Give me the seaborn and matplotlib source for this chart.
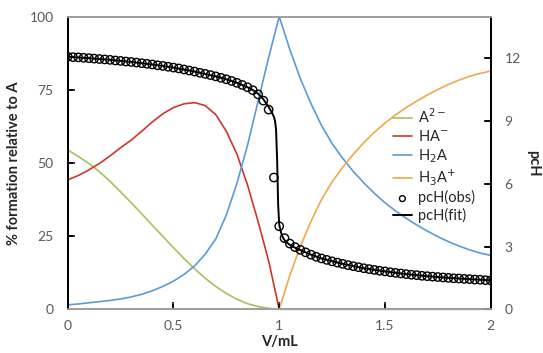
import numpy as np
import matplotlib
matplotlib.use("Agg")
import matplotlib.pyplot as plt
import seaborn as sns

sns.set_theme(style="ticks")
plt.rcParams['font.family'] = ['Lato', 'DejaVu Sans']
plt.rcParams.update({
    'xtick.direction': 'in', 'ytick.direction': 'in',
    'xtick.major.size': 5, 'ytick.major.size': 5,
    'xtick.major.width': 1.1, 'ytick.major.width': 1.1,
    'xtick.color': 'black', 'ytick.color': 'black',
    'xtick.labelcolor': '#595959', 'ytick.labelcolor': '#595959',
    'xtick.labelsize': 10, 'ytick.labelsize': 10,
    'xtick.major.pad': 8, 'ytick.major.pad': 10,
})

# species distribution (% relative to A), read every 0.05 mL
v_species = np.linspace(0, 2, 41)
a2 = [54.4, 52.2, 49.8, 47.0, 43.7, 40.1, 36.4, 32.6, 28.7, 24.9, 21.0,
      17.3, 13.8, 10.6, 7.8, 5.4, 3.4, 1.9, 0.9, 0.3, 0.0,
      0, 0, 0, 0, 0, 0, 0, 0, 0, 0, 0, 0, 0, 0, 0, 0, 0, 0, 0, 0]
ha = [44.2, 45.7, 47.6, 49.8, 52.4, 55.2, 57.8, 60.8, 64.0, 66.8, 68.9,
      70.2, 70.6, 69.6, 66.5, 60.8, 53.0, 42.5, 30.0, 16.5, 0.0,
      0, 0, 0, 0, 0, 0, 0, 0, 0, 0, 0, 0, 0, 0, 0, 0, 0, 0, 0, 0]
h2a = [1.5, 1.8, 2.2, 2.6, 3.0, 3.5, 4.2, 5.1, 6.3, 7.8, 9.6,
       11.9, 14.8, 18.8, 24.0, 32.2, 43.0, 56.0, 71.0, 86.0, 100.0,
       88.8, 78.8, 70.3, 62.8, 56.6, 51.6, 47.1, 43.2, 39.6, 36.4,
       33.6, 31.1, 28.8, 26.7, 24.8, 23.1, 21.6, 20.3, 19.2, 18.4]
h3a = [0, 0, 0, 0, 0, 0, 0, 0, 0, 0, 0, 0, 0, 0, 0, 0, 0, 0, 0, 0, 0.0,
       11.5, 21.5, 30.0, 37.5, 43.5, 48.5, 52.9, 56.9, 60.5, 63.6,
       66.4, 68.9, 71.1, 73.2, 75.1, 76.8, 78.3, 79.6, 80.6, 81.4]

# observed pcH, every 0.025 mL
v_obs = np.linspace(0, 2, 81)
pch_obs = [12.08, 12.06, 12.05, 12.03, 12.01, 11.99, 11.97, 11.95, 11.93, 11.90,
           11.88, 11.85, 11.83, 11.80, 11.77, 11.74, 11.71, 11.67, 11.64, 11.60,
           11.56, 11.52, 11.47, 11.42, 11.37, 11.31, 11.26, 11.20, 11.14, 11.07,
           11.00, 10.92, 10.83, 10.73, 10.62, 10.48, 10.28, 9.98, 9.55, 6.30,
           3.97, 3.40, 3.14, 2.97, 2.84, 2.72, 2.61, 2.51, 2.43, 2.36,
           2.29, 2.23, 2.17, 2.11, 2.06, 2.01, 1.96, 1.92, 1.88, 1.84,
           1.81, 1.77, 1.74, 1.71, 1.68, 1.65, 1.63, 1.60, 1.58, 1.56,
           1.54, 1.52, 1.50, 1.48, 1.47, 1.45, 1.44, 1.42, 1.41, 1.39, 1.38]

# fitted pcH
v_fit = [0, 0.1, 0.2, 0.3, 0.4, 0.5, 0.6, 0.7, 0.75, 0.8, 0.85, 0.875, 0.9,
         0.925, 0.95, 0.965, 0.975, 0.98, 0.985, 0.99, 0.995, 1.0, 1.01, 1.02,
         1.03, 1.05, 1.075, 1.1, 1.15, 1.2, 1.3, 1.4, 1.5, 1.6, 1.7, 1.8, 1.9, 2.0]
pch_fit = [12.08, 12.01, 11.93, 11.83, 11.71, 11.56, 11.37, 11.14, 11.0, 10.83,
           10.62, 10.49, 10.31, 10.05, 9.68, 9.42, 9.2, 9.02, 8.6, 7.2, 5.0,
           4.05, 3.62, 3.38, 3.24, 3.08, 2.94, 2.83, 2.61, 2.43, 2.17, 1.96,
           1.81, 1.68, 1.58, 1.50, 1.44, 1.38]

x_ticks = [0, 0.5, 1, 1.5, 2]
x_ticklabels = ['0', '0.5', '1', '1.5', '2']
left_ticks = [0, 25, 50, 75, 100]
right_ticks = [0, 3, 6, 9, 12]

colors = {'a2': '#a5c25c', 'ha': '#d0352b', 'h2a': '#5b9bd5', 'h3a': '#eea94c'}

fig, ax = plt.subplots(figsize=(5.43, 3.53), dpi=100)
fig.subplots_adjust(left=0.1247, right=0.9037, top=0.953, bottom=0.124)
ax2 = ax.twinx()

lw = 1.2
sns.lineplot(x=v_species, y=a2, ax=ax, color=colors['a2'], lw=lw, label='A$^{2-}$', clip_on=False)
sns.lineplot(x=v_species, y=ha, ax=ax, color=colors['ha'], lw=lw, label='HA$^{-}$', clip_on=False)
sns.lineplot(x=v_species, y=h2a, ax=ax, color=colors['h2a'], lw=lw, label='H$_2$A', clip_on=False)
sns.lineplot(x=v_species, y=h3a, ax=ax, color=colors['h3a'], lw=lw, label='H$_3$A$^{+}$', clip_on=False)

sns.scatterplot(x=v_obs, y=pch_obs, ax=ax2, s=36, facecolor='none',
                edgecolor='black', linewidth=1.0, label='pcH(obs)', zorder=3)
sns.lineplot(x=v_fit, y=pch_fit, ax=ax2, color='black', lw=1.4, label='pcH(fit)', zorder=4)

ax.set_xlim(0, 2)
ax.set_ylim(0, 100)
ax2.set_ylim(0, 14)
ax.set_xticks(x_ticks)
ax.set_xticklabels(x_ticklabels)
ax.set_yticks(left_ticks)
ax2.set_yticks(right_ticks)

# short inward tick marks, drawn in axes coordinates so they always show
ax.vlines(x_ticks[1:-1], 0, 0.018, transform=ax.get_xaxis_transform(),
          color='black', lw=1.1, zorder=5)
ax.hlines(left_ticks[1:-1], 0, 0.013, transform=ax.get_yaxis_transform(),
          color='black', lw=1.1, zorder=5)
ax2.hlines(right_ticks[1:], 0.987, 1, transform=ax2.get_yaxis_transform(),
           color='black', lw=1.1, zorder=5)

for a in (ax, ax2):
    for side in ('left', 'right'):
        a.spines[side].set_color('black')
        a.spines[side].set_linewidth(1.3)
    a.spines['top'].set_color('#a0a0a0')
    a.spines['bottom'].set_color('#a0a0a0')

ax.set_xlabel('V/mL', fontsize=10.5, fontweight='bold', color='#262626', labelpad=2)
ax.set_ylabel('% formation relative to A', fontsize=10.5, fontweight='bold',
              color='#262626', labelpad=6)
ax2.set_ylabel('pcH', fontsize=10.5, fontweight='bold', color='#262626',
               rotation=270, labelpad=14)

h1, l1 = ax.get_legend_handles_labels()
h2, l2 = ax2.get_legend_handles_labels()
ax.get_legend().remove()
ax2.get_legend().remove()
leg = ax2.legend(h1 + h2, l1 + l2, loc='upper left', bbox_to_anchor=(0.755, 0.71),
                 frameon=False, fontsize=10.5, handlelength=1.3, handletextpad=0.4,
                 labelspacing=0.2, borderaxespad=0, markerscale=0.7)
for t in leg.get_texts():
    t.set_color('#262626')

plt.savefig('out.png', dpi=100)
